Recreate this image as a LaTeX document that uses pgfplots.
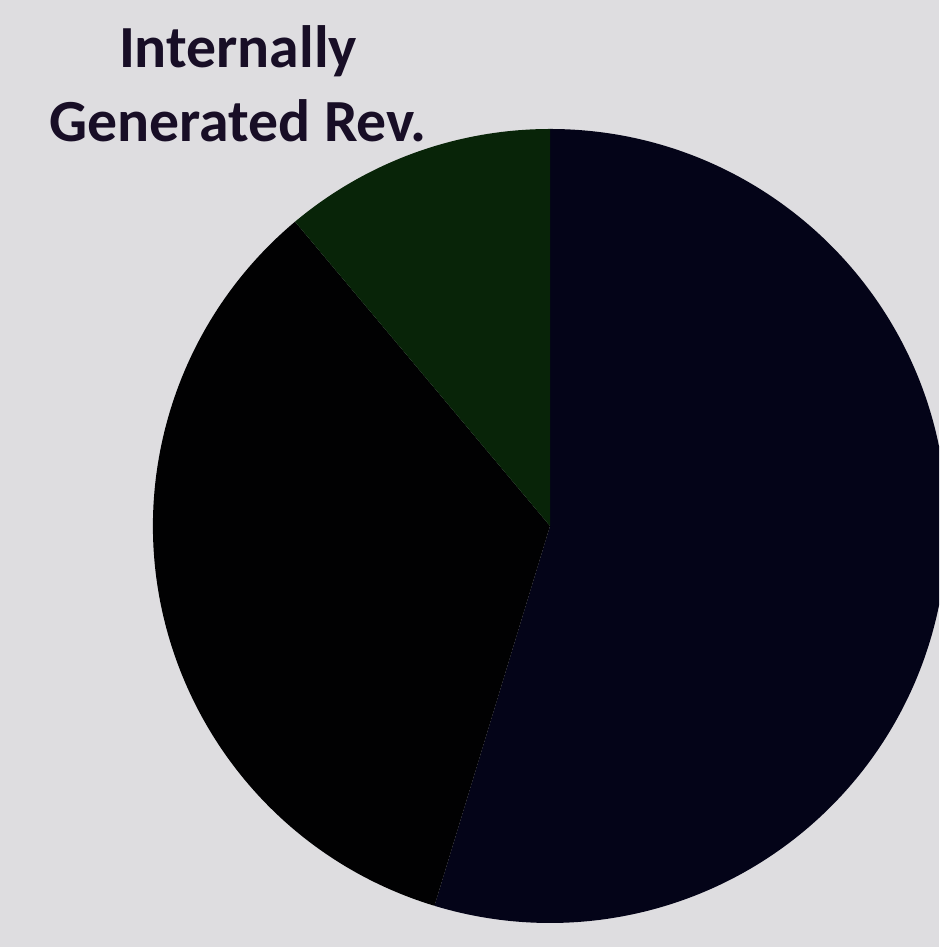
\documentclass[border=0pt]{standalone}
\usepackage{pgfplots}
\pgfplotsset{compat=1.18}
\usepackage{pgfplotstable}
\usepackage{fontspec}
\setmainfont{Carlito}
\definecolor{bg}{RGB}{222,221,224}
\definecolor{navyslice}{RGB}{4,4,24}
\definecolor{blackslice}{RGB}{1,1,2}
\definecolor{greenslice}{RGB}{8,36,8}
\definecolor{labeltext}{RGB}{24,14,38}
\pgfplotstableread{
label value color
Other 54.7 navyslice
Internal 34.2 blackslice
Generated 11.1 greenslice
}\piedata
\begin{document}
\begin{tikzpicture}
\begin{axis}[scale only axis, width=9.39cm, height=9.47cm,
  xmin=0, xmax=939, ymin=0, ymax=947, hide axis, clip=true]
\fill[bg] (axis cs:0,0) rectangle (axis cs:939,947);
\def\startang{90}
\pgfplotsforeachungrouped \i in {0,1,2}{%
  \pgfplotstablegetelem{\i}{value}\of\piedata
  \let\sliceval=\pgfplotsretval
  \pgfplotstablegetelem{\i}{color}\of\piedata
  \let\slicecol=\pgfplotsretval
  \pgfmathsetmacro\endang{\startang-\sliceval*3.6}%
  \edef\cmd{\noexpand\fill[\slicecol] (axis cs:550,421) -- ++(\startang:3.97cm) arc[start angle=\startang, end angle=\endang, radius=3.97cm] -- cycle;}%
  \cmd
  \global\let\startang=\endang
}
\node[font=\bfseries\fontsize{17}{21}\selectfont, align=center, text=labeltext] at (axis cs:238,863) {Internally\\Generated Rev.};
\end{axis}
\end{tikzpicture}
\end{document}
